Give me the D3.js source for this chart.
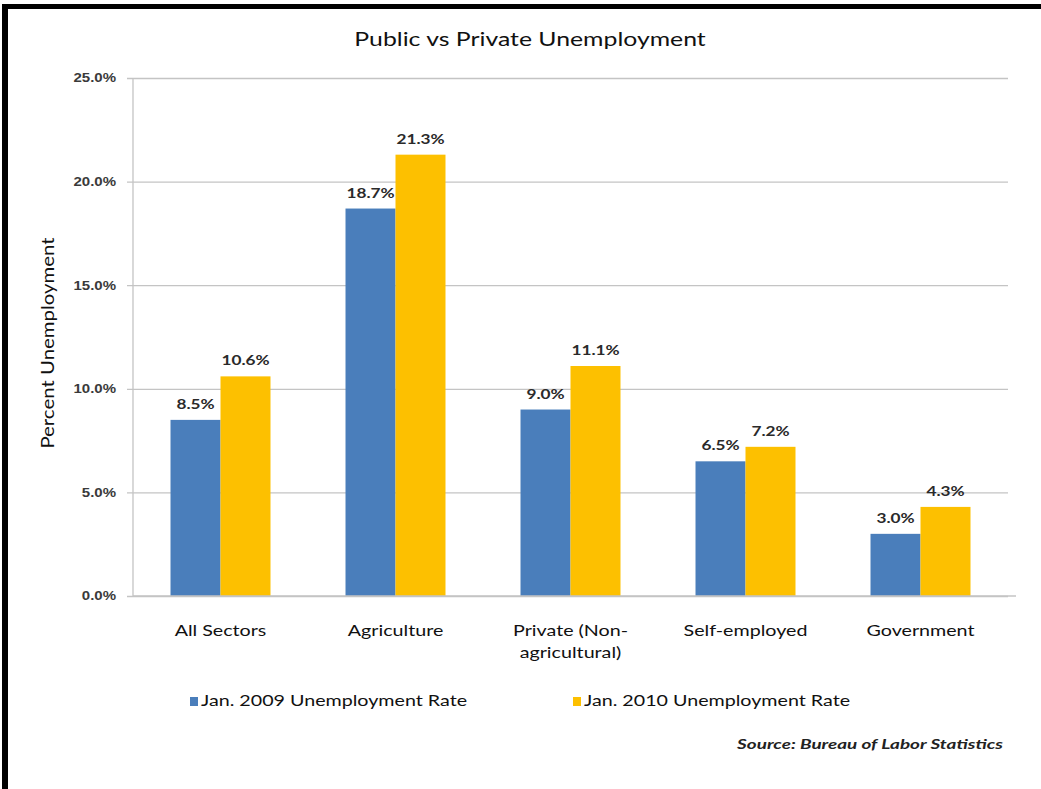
<!DOCTYPE html>
<html>
<head>
<meta charset="utf-8">
<script src="https://cdn.jsdelivr.net/npm/d3@7"></script>
<style>
  html, body { margin: 0; padding: 0; background: #fff; }
  svg { display: block; font-family: Lato, "Open Sans", sans-serif; }
</style>
</head>
<body>
<div id="chart"></div>
<script>
/* ── data ─────────────────────────────────────────── */
const categories = [["All Sectors"], ["Agriculture"], ["Private (Non-", "agricultural)"], ["Self-employed"], ["Government"]];
const series = ["Jan. 2009 Unemployment Rate", "Jan. 2010 Unemployment Rate"];
const rate2009 = [8.5, 18.7, 9.0, 6.5, 3.0];
const rate2010 = [10.6, 21.3, 11.1, 7.2, 4.3];
const yTicks = [0, 5, 10, 15, 20, 25];
const colors = ["#4a7ebb", "#fdc000"];

/* ── layout ───────────────────────────────────────── */
const W = 1041, H = 789;
const plot = { left: 133, right: 1008, top: 78, bottom: 596 };
const STRETCH = 1.23; // source picture is widened, so its text is too

const svg = d3.select('#chart').append('svg')
  .attr('width', W).attr('height', H);

svg.append('rect').attr('width', W).attr('height', H).attr('fill', '#fff');

// black frame (top + left only, like the cropped screenshot)
svg.append('rect').attr('x', 2).attr('y', 4).attr('width', W).attr('height', 5).attr('fill', '#000');
svg.append('rect').attr('x', 2).attr('y', 4).attr('width', 6).attr('height', H).attr('fill', '#000');

// text placed at (x,y) and stretched horizontally
function wideText(sel, x, y, s) {
  return sel.append('text')
    .attr('transform', `translate(${x},${y}) scale(${s || STRETCH},1)`);
}

const keys = categories.map(c => c.join(' '));
const x = d3.scaleBand().domain(keys).range([plot.left, plot.right]).paddingInner(0.4286).paddingOuter(0.2143);
const xs = d3.scaleBand().domain([0, 1]).range([0, x.bandwidth()]);
const y = d3.scaleLinear().domain([0, 25]).range([plot.bottom, plot.top]);

// gridlines + y axis
const yAxis = d3.axisLeft(y).tickValues(yTicks).tickFormat(d => d.toFixed(1) + '%')
  .tickSize(-(plot.right - plot.left));
const gy = svg.append('g').attr('transform', `translate(${plot.left},0)`).call(yAxis);
gy.select('.domain').remove();
gy.selectAll('.tick line').attr('stroke', '#c4c4c4').attr('stroke-width', 1.3).attr('x1', -6);
gy.selectAll('.tick text')
  .attr('x', -17 / 1.25).attr('transform', 'scale(1.25,1)')
  .attr('font-size', 12).attr('fill', '#3a3a3a').attr('font-weight', 'bold');
svg.append('line').attr('x1', plot.left).attr('x2', plot.left)
  .attr('y1', plot.top).attr('y2', plot.bottom).attr('stroke', '#c4c4c4').attr('stroke-width', 1.3);

// bars
const rows = categories.map((c, i) => ({ key: keys[i], vals: [rate2009[i], rate2010[i]] }));
const groups = svg.append('g').selectAll('g').data(rows).join('g')
  .attr('transform', d => `translate(${x(d.key)},0)`);

groups.selectAll('rect').data(d => d.vals.map((v, s) => ({ v, s }))).join('rect')
  .attr('x', d => xs(d.s)).attr('width', xs.bandwidth())
  .attr('y', d => y(d.v)).attr('height', d => y(0) - y(d.v))
  .attr('fill', d => colors[d.s]);

groups.selectAll('text.val').data(d => d.vals.map((v, s) => ({ v, s }))).join('text')
  .attr('class', 'val')
  .attr('transform', d => `translate(${xs(d.s) + xs.bandwidth() / 2},${y(d.v) - 11}) scale(${STRETCH},1)`)
  .attr('text-anchor', 'middle').attr('font-size', 14).attr('font-weight', 'bold')
  .attr('fill', '#2a2a2a').text(d => d.v.toFixed(1) + '%');

// baseline
svg.append('line').attr('x1', plot.left).attr('x2', plot.right + 8)
  .attr('y1', plot.bottom).attr('y2', plot.bottom).attr('stroke', '#c4c4c4').attr('stroke-width', 1.3);

// category labels
const cat = svg.append('g').selectAll('text').data(categories).join('text')
  .attr('transform', (d, i) => `translate(${x(keys[i]) + x.bandwidth() / 2},636) scale(${STRETCH},1)`)
  .attr('text-anchor', 'middle').attr('font-size', 16).attr('fill', '#111');
cat.selectAll('tspan').data(d => d).join('tspan')
  .attr('x', 0).attr('dy', (d, i) => i === 0 ? 0 : 22).text(d => d);

// title
wideText(svg, 530, 46, 1.24).attr('text-anchor', 'middle')
  .attr('font-size', 20).attr('fill', '#111').text('Public vs Private Unemployment');

// y axis title
svg.append('text')
  .attr('transform', `translate(54,${(plot.top + plot.bottom) / 2 + 6}) rotate(-90) scale(1.2,1)`)
  .attr('text-anchor', 'middle').attr('font-size', 17).attr('fill', '#111').text('Percent Unemployment');

// legend
const legendX = [190, 573];
const lg = svg.append('g').selectAll('g').data(series).join('g')
  .attr('transform', (d, i) => `translate(${legendX[i]},706)`);
lg.append('rect').attr('x', 0).attr('y', -9).attr('width', 8).attr('height', 9)
  .attr('fill', (d, i) => colors[i]);
lg.append('text').attr('transform', `translate(11,0) scale(${STRETCH},1)`)
  .attr('font-size', 16).attr('fill', '#111').text(d => d);

// source
wideText(svg, 1003, 749, 1.35).attr('text-anchor', 'end')
  .attr('font-size', 14).attr('font-style', 'italic').attr('font-weight', 'bold')
  .attr('fill', '#222').text('Source: Bureau of Labor Statistics');
</script>
</body>
</html>
